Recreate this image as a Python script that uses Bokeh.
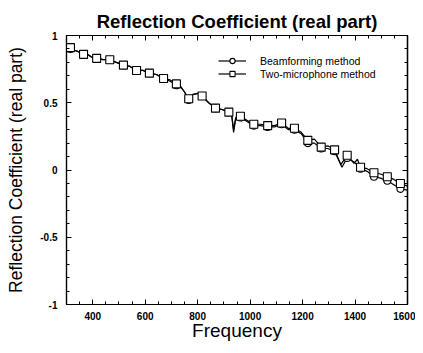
from bokeh.plotting import figure
from bokeh.models import LinearAxis, Range1d, FixedTicker, Legend, LegendItem
from bokeh.embed import file_html
from bokeh.resources import INLINE

# ---- data ----
beam_freq = [305, 315, 330, 345, 365, 380, 395, 415, 440, 465, 490, 517, 542, 567, 592, 616, 643, 670,
             695, 719, 735, 750, 766, 780, 800, 817, 842, 868, 893, 919, 930, 937, 945, 963, 988, 1014,
             1040, 1067, 1093, 1120, 1145, 1169, 1195, 1220, 1245, 1271, 1296, 1322, 1350, 1370, 1396,
             1421, 1446, 1472, 1497, 1523, 1548, 1573, 1600]
beam_vals = [0.92, 0.90, 0.89, 0.88, 0.86, 0.86, 0.84, 0.83, 0.82, 0.82, 0.80, 0.78, 0.77, 0.74, 0.74,
             0.72, 0.71, 0.68, 0.66, 0.63, 0.62, 0.58, 0.52, 0.56, 0.57, 0.55, 0.50, 0.46, 0.45, 0.43,
             0.41, 0.28, 0.38, 0.39, 0.36, 0.33, 0.33, 0.32, 0.32, 0.34, 0.30, 0.30, 0.27, 0.20, 0.20,
             0.16, 0.16, 0.14, 0.02, 0.09, 0.06, 0.01, -0.01, -0.05, -0.06, -0.08, -0.11, -0.14, -0.15]

mic_freq = [305, 315, 330, 345, 365, 380, 395, 415, 440, 465, 490, 517, 542, 567, 592, 616, 643, 670,
            695, 719, 735, 750, 766, 780, 800, 817, 842, 868, 893, 919, 930, 937, 945, 963, 988, 1014,
            1040, 1067, 1093, 1120, 1145, 1169, 1195, 1220, 1245, 1271, 1296, 1322, 1346, 1370, 1396,
            1409, 1421, 1446, 1472, 1497, 1523, 1548, 1573, 1600]
mic_vals = [0.92, 0.91, 0.89, 0.88, 0.86, 0.86, 0.84, 0.83, 0.82, 0.82, 0.80, 0.78, 0.77, 0.74, 0.74,
            0.72, 0.71, 0.68, 0.67, 0.64, 0.62, 0.58, 0.53, 0.56, 0.57, 0.55, 0.50, 0.46, 0.45, 0.43,
            0.40, 0.30, 0.39, 0.40, 0.37, 0.34, 0.34, 0.33, 0.33, 0.35, 0.31, 0.31, 0.28, 0.22, 0.23,
            0.17, 0.18, 0.15, 0.04, 0.11, 0.05, 0.08, 0.02, 0.01, -0.02, -0.03, -0.05, -0.07, -0.10, -0.12]

marker_freq = [315, 365, 415, 465, 517, 567, 616, 670, 719, 766, 817, 868, 919, 963, 1014, 1067, 1120,
               1169, 1220, 1271, 1322, 1370, 1421, 1472, 1523, 1573]

x_ticks = [400, 600, 800, 1000, 1200, 1400, 1600]
x_minor = [300, 350, 450, 500, 550, 650, 700, 750, 850, 900, 950, 1050, 1100, 1150, 1250, 1300, 1350,
           1450, 1500, 1550]
y_ticks = [-1, -0.5, 0, 0.5, 1]
y_minor = [-0.9, -0.8, -0.7, -0.6, -0.4, -0.3, -0.2, -0.1, 0.1, 0.2, 0.3, 0.4, 0.6, 0.7, 0.8, 0.9]
y_labels = {-1: "-1", -0.5: "-0.5", 0: "0", 0.5: "0.5", 1: "1"}

def pick(freqs, vals, sel):
    d = dict(zip(freqs, vals))
    return list(sel), [d[f] for f in sel]

bm_x, bm_y = pick(beam_freq, beam_vals, marker_freq)
mm_x, mm_y = pick(mic_freq, mic_vals, marker_freq)

FONT = "Liberation Sans"

p = figure(width=415, height=345, output_backend="svg", toolbar_location=None,
           x_range=Range1d(300, 1600), y_range=Range1d(-1, 1),
           min_border_left=66, min_border_right=8, min_border_top=35, min_border_bottom=41,
           title="Reflection Coefficient (real part)")
p.title.align = "center"
p.title.text_font = FONT
p.title.text_font_size = "18.5px"
p.title.text_font_style = "bold"
p.title.text_color = "black"
p.title.standoff = 8
p.title.offset = 0

p.grid.visible = False
p.outline_line_color = "black"
p.outline_line_width = 1.2
p.background_fill_color = "white"
p.border_fill_color = "white"

def style_axis(ax):
    ax.axis_line_color = "black"
    ax.axis_line_width = 1.2
    ax.major_tick_in = 5
    ax.major_tick_out = 0
    ax.minor_tick_in = 3
    ax.minor_tick_out = 0
    ax.major_tick_line_color = "black"
    ax.minor_tick_line_color = "black"
    ax.major_label_text_font = FONT
    ax.major_label_text_font_size = "10px"
    ax.major_label_text_font_style = "bold"
    ax.major_label_text_color = "black"

xa = p.xaxis[0]
ya = p.yaxis[0]
xa.ticker = FixedTicker(ticks=x_ticks, minor_ticks=x_minor)
ya.ticker = FixedTicker(ticks=y_ticks, minor_ticks=y_minor)
style_axis(xa)
style_axis(ya)
xa.major_label_standoff = 7
ya.major_label_standoff = 9
ya.major_label_overrides = y_labels
xa.axis_label = "Frequency"
ya.axis_label = "Reflection Coefficient (real part)"
for ax in (xa, ya):
    ax.axis_label_text_font = FONT
    ax.axis_label_text_font_style = "normal"
    ax.axis_label_text_color = "black"
xa.axis_label_text_font_size = "19px"
ya.axis_label_text_font_size = "17.5px"
xa.axis_label_standoff = -3
ya.axis_label_standoff = 11

# mirror ticks on top and right (no labels)
def mirror(side, majors, minors):
    for pos, ln in ((majors, 5), (minors, 3)):
        ax = LinearAxis(ticker=FixedTicker(ticks=[], minor_ticks=pos))
        ax.axis_line_color = "black"
        ax.axis_line_width = 1.2
        ax.major_tick_in = 0
        ax.major_tick_out = 0
        ax.minor_tick_in = ln
        ax.minor_tick_out = 0
        ax.minor_tick_line_color = "black"
        ax.major_label_standoff = 0
        p.add_layout(ax, side)

mirror("above", x_ticks, x_minor)
mirror("right", y_ticks, y_minor)

l1 = p.line(beam_freq, beam_vals, line_color="black", line_width=1.2)
l2 = p.line(mic_freq, mic_vals, line_color="black", line_width=1.2)
c1 = p.scatter(bm_x, bm_y, marker="circle", size=7, fill_color="white", line_color="black", line_width=1.1)
s2 = p.scatter(mm_x, mm_y, marker="square", size=8, fill_color="white", line_color="black", line_width=1.1)

legend = Legend(items=[LegendItem(label="Beamforming method", renderers=[l1, c1]),
                       LegendItem(label="Two-microphone method", renderers=[l2, s2])],
                location=(152, 224))
legend.padding = 0
legend.margin = 0
legend.spacing = 0
legend.border_line_color = None
legend.background_fill_alpha = 0
legend.glyph_width = 28
legend.glyph_height = 13
legend.label_height = 13
legend.label_standoff = 14
legend.label_text_font = FONT
legend.label_text_font_size = "10.5px"
legend.label_text_color = "black"
p.add_layout(legend)

open("out.html", "w").write(file_html(p, INLINE))
